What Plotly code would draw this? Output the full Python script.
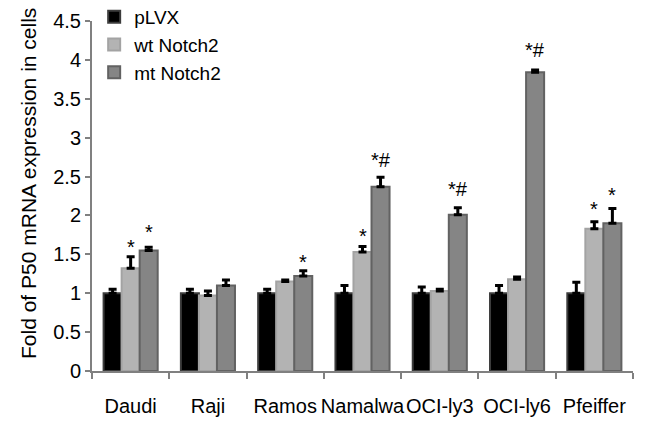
import plotly.graph_objects as go

categories = ["Daudi", "Raji", "Ramos", "Namalwa", "OCI-ly3", "OCI-ly6", "Pfeiffer"]

plvx_vals = [1.0, 1.0, 1.0, 1.0, 1.0, 1.0, 1.0]
plvx_err = [0.05, 0.05, 0.05, 0.10, 0.08, 0.10, 0.14]
wt_vals = [1.32, 0.97, 1.15, 1.53, 1.03, 1.18, 1.83]
wt_err = [0.15, 0.06, 0.02, 0.07, 0.02, 0.03, 0.09]
mt_vals = [1.55, 1.10, 1.22, 2.37, 2.01, 3.84, 1.90]
mt_err = [0.04, 0.07, 0.07, 0.12, 0.09, 0.03, 0.19]

series_names = ["pLVX", "wt Notch2", "mt Notch2"]

y_tickvals = [0, 0.5, 1, 1.5, 2, 2.5, 3, 3.5, 4, 4.5]
y_ticktext = ["0", "0.5", "1", "1.5", "2", "2.5", "3", "3.5", "4", "4.5"]

# significance labels: (category, series index, label, y position of label)
sig_cats = ["Daudi", "Daudi", "Ramos", "Namalwa", "Namalwa", "OCI-ly3", "OCI-ly6", "Pfeiffer", "Pfeiffer"]
sig_series = [1, 2, 2, 1, 2, 2, 2, 1, 2]
sig_text = ["*", "*", "*", "*", "*#", "*#", "*#", "*", "*"]
sig_y = [1.66, 1.85, 1.47, 1.80, 2.73, 2.35, 4.14, 2.15, 2.33]

FONT = "Arial, Liberation Sans, sans-serif"
fills = ["#000000", "#b3b3b3", "#858585"]
lines = ["#3c3c3c", "#a3a3a3", "#626262"]

# page body has an 8px margin; figure is sized to fit the window
W, H = 637, 415
ML, MR, MT, MB = 84, 12, 13, 52
PW, PH = W - ML - MR, H - MT - MB

fig = go.Figure()
for name, vals, errs, fc, lc in zip(series_names, [plvx_vals, wt_vals, mt_vals],
                                    [plvx_err, wt_err, mt_err], fills, lines):
    fig.add_trace(go.Bar(
        x=categories, y=vals, name=name,
        marker=dict(color=fc, line=dict(color=lc, width=2)),
        error_y=dict(type="data", array=errs, arrayminus=[0] * len(errs),
                     symmetric=False, color="#000000", thickness=3, width=4),
    ))

bar_px = PW / 7 * 0.7 / 3
for c, s, t, y in zip(sig_cats, sig_series, sig_text, sig_y):
    fig.add_annotation(
        x=c, y=y, text=t, showarrow=False,
        xshift=(s - 1) * bar_px, yshift=-5 if t == "*" else -1,
        font=dict(family=FONT, size=20, color="#000000"),
        xanchor="center", yanchor="middle",
    )

fig.add_annotation(
    xref="paper", yref="paper", x=-64 / PW, y=(PH - (184 - 8 - MT)) / PH,
    text="Fold of P50 mRNA expression in cells", textangle=-90,
    showarrow=False, font=dict(family=FONT, size=21, color="#000000"),
    xanchor="center", yanchor="middle",
)

fig.update_layout(
    width=W, height=H, autosize=False,
    margin=dict(l=ML, r=MR, t=MT, b=MB, pad=0, autoexpand=False),
    paper_bgcolor="white", plot_bgcolor="white",
    barmode="group", bargap=0.3, bargroupgap=0,
    font=dict(family=FONT, size=20, color="#000000"),
    showlegend=True,
    legend=dict(x=0.004, y=1.066, xanchor="left", yanchor="top",
                bgcolor="rgba(0,0,0,0)", font=dict(family=FONT, size=19),
                tracegroupgap=0, itemwidth=30),
)
fig.update_xaxes(
    showline=True, linecolor="#808080", linewidth=2,
    ticks="outside", tickson="boundaries", ticklen=6, tickwidth=2, tickcolor="#808080",
    showgrid=False, zeroline=False, ticklabelstandoff=16, tickangle=0, automargin=False,
    tickfont=dict(family=FONT, size=20, color="#000000"),
)
fig.update_yaxes(
    range=[0, 4.5], tickvals=y_tickvals, ticktext=y_ticktext,
    showline=True, linecolor="#808080", linewidth=2,
    ticks="outside", ticklen=5, tickwidth=2, tickcolor="#808080",
    showgrid=False, zeroline=False, automargin=False,
    tickfont=dict(family=FONT, size=20, color="#000000"),
)

fig.write_html("out.html")
